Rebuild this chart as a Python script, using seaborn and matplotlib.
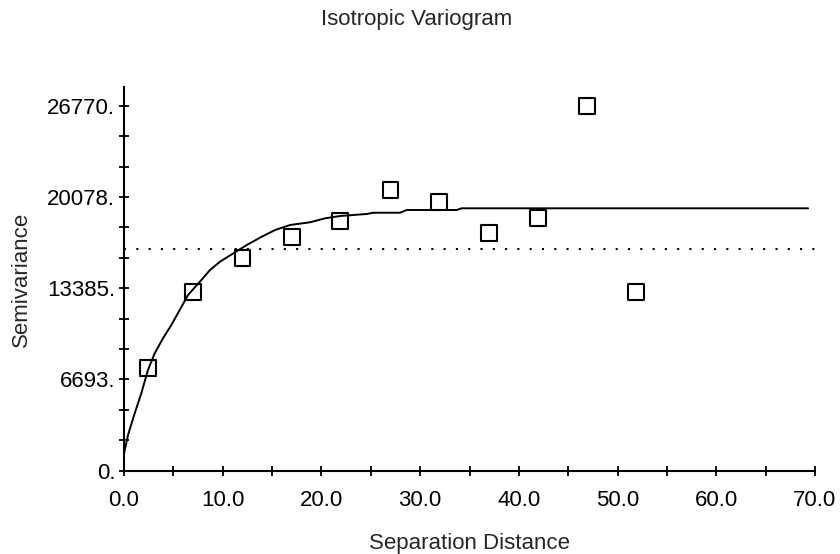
import matplotlib
matplotlib.use("Agg")
import matplotlib.pyplot as plt
import seaborn as sns
import pandas as pd
import numpy as np

# Data
lag_distance = [2.4, 7.0, 12.0, 17.0, 21.9, 27.0, 31.9, 37.0, 41.9, 46.9, 51.9]
semivariance = [7510, 13084, 15621, 17162, 18313, 20609, 19706, 17433, 18533, 26770, 13106]

model_x = [0.0, 0.41, 1.08, 1.75, 2.43, 3.11, 3.95, 4.79, 5.64, 6.48, 7.83, 8.71, 9.73,
           11.07, 12.43, 13.95, 15.3, 16.82, 18.84, 20.36, 21.88, 24.59, 25.26, 27.96,
           28.64, 33.7, 34.2, 69.3]
model_y = [1270, 2620, 4200, 5670, 7390, 8610, 9710, 10680, 11780, 12880, 13980, 14720,
           15330, 15940, 16550, 17160, 17650, 18020, 18220, 18510, 18680, 18830, 18920,
           18920, 19120, 19120, 19245, 19245]

sample_variance = 16237

y_major = [0, 6693, 13385, 20078, 26770]
y_major_labels = ["0.", "6693.", "13385.", "20078.", "26770."]
x_major = [0, 10, 20, 30, 40, 50, 60, 70]
x_major_labels = ["0.0", "10.0", "20.0", "30.0", "40.0", "50.0", "60.0", "70.0"]

title = "Isotropic Variogram"
xlabel = "Separation Distance"
ylabel = "Semivariance"

sns.set_style("ticks")
plt.rcParams["font.family"] = ["Liberation Sans", "DejaVu Sans"]

FS = 16

fig = plt.figure(figsize=(8.4, 5.54), dpi=100)
ax = fig.add_axes([124 / 840, 83.3 / 554, (815 - 124) / 840, (470.7 - 87.3) / 554])

pts = pd.DataFrame({"x": lag_distance, "y": semivariance})
model = pd.DataFrame({"x": model_x, "y": model_y})

ax.axhline(sample_variance, color="black", lw=1.5, linestyle=(0, (1, 4.9)), zorder=1)
sns.lineplot(data=model, x="x", y="y", ax=ax, color="black", lw=1.4, sort=False,
             estimator=None, zorder=2)
sns.scatterplot(data=pts, x="x", y="y", ax=ax, marker="s", s=130,
                facecolor="none", edgecolor="black", linewidth=1.5, zorder=3)

ax.set_xlim(0, 70)
ax.set_ylim(0, 28120)

# ticks: y minor at thirds, x minor at 5
y_step = y_major[-1] / 12
y_ticks = [i * y_step for i in range(13)]
y_labels = []
for i in range(13):
    y_labels.append(y_major_labels[i // 3] if i % 3 == 0 else "")
ax.set_yticks(y_ticks)
ax.set_yticklabels(y_labels)
x_ticks = [5 * i for i in range(15)]
x_labels = [x_major_labels[i // 2] if i % 2 == 0 else "" for i in range(15)]
ax.set_xticks(x_ticks)
ax.set_xticklabels(x_labels)

ax.tick_params(axis="both", direction="inout", length=6.5, width=1.3, colors="black",
               labelsize=FS)
ax.tick_params(axis="x", pad=11)
ax.tick_params(axis="y", pad=3)

for s in ["top", "right"]:
    ax.spines[s].set_visible(False)
for s in ["left", "bottom"]:
    ax.spines[s].set_linewidth(1.5)
    ax.spines[s].set_color("black")

ax.set_xlabel("")
ax.set_ylabel("")
fig.text(0.496, 1 - 20 / 554, title, ha="center", va="center", fontsize=FS)
fig.text(469.5 / 840, 1 - 543 / 554, xlabel, ha="center", va="center", fontsize=FS)
fig.text(21.7 / 840, 1 - 279 / 554, ylabel, ha="center", va="center", rotation=90,
         fontsize=FS)

fig.savefig("out.png", dpi=100)
